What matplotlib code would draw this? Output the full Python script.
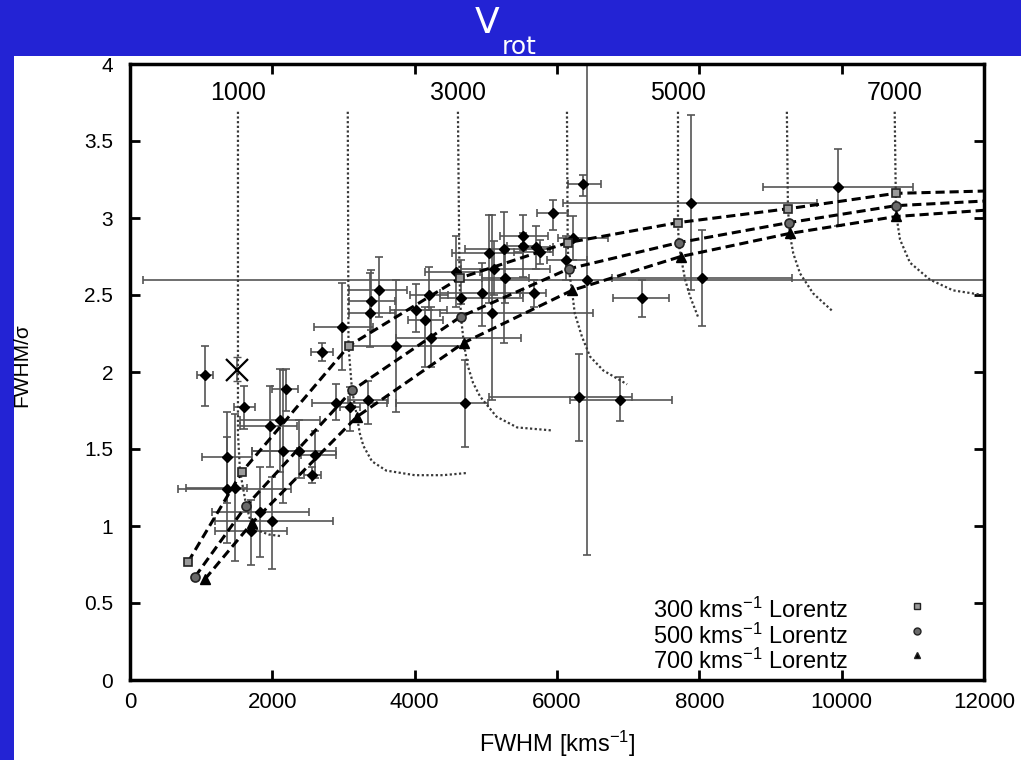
"""FWHM/sigma versus FWHM with rotating-disc model tracks (V_rot)."""

import matplotlib

matplotlib.use('Agg')
import matplotlib.pyplot as plt
from matplotlib.patches import Rectangle
import numpy as np

plt.rcParams['font.family'] = ['Liberation Sans', 'DejaVu Sans']
plt.rcParams['mathtext.default'] = 'regular'

# --- measured objects: FWHM, FWHM/sigma and the ends of their error bars ---
fwhm = np.array([1050, 1600, 1967, 2108, 2192, 1360, 1360, 1475, 1827, 1700,
                 1995, 2150, 2375, 2600, 2557, 2894, 3090, 3344, 2698, 2979,
                 3372, 3386, 3499, 3737, 4018, 4145, 4200, 4230, 4580, 4650,
                 4945, 5045, 5115, 5085, 5255, 5270, 5522, 5522, 5705, 5760,
                 5680, 5945, 6225, 6125, 6420, 6365, 4707, 6310, 6885, 7190,
                 7880, 8035, 9950])
ratio = np.array([1.98, 1.77, 1.65, 1.69, 1.89, 1.45, 1.24, 1.25, 1.09, 0.97,
                  1.03, 1.49, 1.49, 1.46, 1.33, 1.80, 1.77, 1.82, 2.13, 2.29,
                  2.38, 2.46, 2.53, 2.17, 2.40, 2.34, 2.50, 2.22, 2.65, 2.48,
                  2.51, 2.77, 2.67, 2.38, 2.80, 2.61, 2.88, 2.82, 2.81, 2.78,
                  2.51, 3.03, 2.87, 2.73, 2.60, 3.22, 1.80, 1.84, 1.82, 2.48,
                  3.10, 2.61, 3.20])
fwhm_lo = np.array([940, 1460, 1545, 1545, 1995, 1011, 680, 790, 1150, 1195,
                    1195, 1714, 1714, 2400, 2440, 2557, 2950, 3060, 2540, 2585,
                    3077, 3077, 3077, 3090, 3650, 3900, 3934, 3737, 4145, 4355,
                    4355, 4520, 4650, 4355, 4707, 4950, 5200, 5300, 5500, 5400,
                    5480, 5720, 6010, 5860, 180, 6150, 3737, 5050, 6180, 6785,
                    6085, 6770, 8895])
fwhm_hi = np.array([1160, 1760, 2346, 2670, 2360, 1714, 2262, 1650, 2515, 2205,
                    2852, 2346, 2894, 2894, 2680, 3610, 3230, 3625, 2850, 3415,
                    3723, 3723, 3892, 4700, 4450, 4400, 4470, 5500, 4920, 5520,
                    5520, 5520, 5900, 6505, 5900, 5600, 5875, 5760, 5950, 5950,
                    5845, 6155, 6715, 6420, 12500, 6620, 5030, 7050, 7615, 7575,
                    9650, 9300, 11000])
ratio_lo = np.array([1.78, 1.63, 1.38, 1.35, 1.75, 1.15, 0.89, 0.77, 0.80, 0.75,
                     0.72, 1.15, 1.31, 1.31, 1.28, 1.69, 1.62, 1.66, 2.07, 2.01,
                     2.16, 2.27, 2.36, 1.74, 2.26, 2.03, 2.40, 2.03, 2.42, 2.44,
                     2.30, 2.45, 2.50, 1.82, 2.19, 2.45, 2.79, 2.62, 2.67, 2.70,
                     2.42, 2.92, 2.73, 2.60, 0.81, 3.14, 1.51, 1.55, 1.68, 2.36,
                     2.53, 2.30, 2.95])
ratio_hi = np.array([2.17, 1.91, 1.91, 2.02, 2.02, 1.74, 1.58, 1.73, 1.38, 1.17,
                     1.32, 2.01, 1.69, 1.62, 1.38, 1.92, 1.90, 1.94, 2.19, 2.58,
                     2.64, 2.66, 2.75, 2.60, 2.57, 2.42, 2.68, 2.42, 2.88, 2.73,
                     2.71, 3.02, 2.85, 3.02, 3.04, 2.78, 3.02, 2.90, 2.95, 2.86,
                     2.60, 3.12, 3.01, 2.88, 4.40, 3.28, 2.08, 2.12, 1.97, 2.60,
                     3.67, 2.92, 3.45])

# the object marked with a cross
cross_fwhm, cross_ratio = 1500, 2.01
cross_ratio_lo, cross_ratio_hi = 1.94, 2.10

# --- Lorentzian model tracks (last point = right edge, no marker) ---
l300_x = [815, 1570, 3075, 4635, 6150, 7700, 9245, 10760, 12000]
l300_y = [0.766, 1.35, 2.17, 2.61, 2.84, 2.97, 3.06, 3.16, 3.175]
l500_x = [913, 1630, 3120, 4650, 6165, 7710, 9260, 10760, 12000]
l500_y = [0.67, 1.13, 1.88, 2.36, 2.67, 2.84, 2.97, 3.08, 3.11]
l700_x = [1053, 1715, 3190, 4690, 6210, 7740, 9270, 10770, 12000]
l700_y = [0.655, 1.02, 1.71, 2.19, 2.53, 2.75, 2.90, 3.01, 3.05]

# --- constant V_rot tracks (dotted) ---
v1000_x = [1517, 1517, 1545, 1630, 1700, 1800, 1950, 2107]
v1000_y = [3.69, 1.60, 1.36, 1.14, 1.02, 0.97, 0.945, 0.935]
v2000_x = [3060, 3070, 3120, 3190, 3230, 3280, 3400, 3600, 4000, 4400, 4750]
v2000_y = [3.69, 2.17, 1.88, 1.71, 1.60, 1.52, 1.42, 1.36, 1.33, 1.33, 1.345]
v3000_x = [4608, 4630, 4650, 4690, 4740, 4820, 4920, 5150, 5440, 5945]
v3000_y = [3.69, 2.61, 2.36, 2.19, 2.05, 1.93, 1.84, 1.71, 1.64, 1.62]
v4000_x = [6140, 6150, 6165, 6210, 6250, 6350, 6465, 6650, 6985]
v4000_y = [3.69, 2.84, 2.67, 2.53, 2.38, 2.23, 2.10, 2.01, 1.92]
v5000_x = [7700, 7700, 7710, 7740, 7800, 7870, 7980]
v5000_y = [3.69, 2.97, 2.84, 2.75, 2.60, 2.49, 2.36]
v6000_x = [9230, 9245, 9260, 9270, 9320, 9415, 9600, 9860]
v6000_y = [3.69, 3.06, 2.97, 2.90, 2.77, 2.64, 2.51, 2.40]
v7000_x = [10745, 10760, 10760, 10770, 10820, 10960, 11240, 11565, 11985]
v7000_y = [3.69, 3.16, 3.08, 3.01, 2.86, 2.71, 2.60, 2.53, 2.50]

vrot_labels = ['1000', '3000', '5000', '7000']
vrot_label_x = [1517, 4608, 7700, 10745]
vrot_label_y = 3.81

legend_labels = ['300 kms$^{-1}$ Lorentz', '500 kms$^{-1}$ Lorentz',
                 '700 kms$^{-1}$ Lorentz']

BLUE = '#2323d4'

fig = plt.figure(figsize=(10.21, 7.60), dpi=100)
fig.patch.set_facecolor(BLUE)
fig.add_artist(Rectangle((14 / 1021, 0), 1, (760 - 56) / 760,
                         transform=fig.transFigure, facecolor='white',
                         edgecolor='none', zorder=0))
fig.text(487 / 1021, 1 - 33 / 760, 'V', color='white', fontsize=26,
         ha='center', va='baseline', family='DejaVu Sans')
fig.text(502 / 1021, 1 - 54 / 760, 'rot', color='white', fontsize=18,
         ha='left', va='baseline', family='DejaVu Sans')

ax = fig.add_axes([130 / 1021, 80 / 760, 854 / 1021, 616 / 760])
ax.set_zorder(1)

# error bars and data points
xerr = [fwhm - fwhm_lo, fwhm_hi - fwhm]
yerr = [ratio - ratio_lo, ratio_hi - ratio]
ax.errorbar(fwhm, ratio, xerr=xerr, yerr=yerr, fmt='none', ecolor='#555555',
            elinewidth=1.2, capsize=3.2, capthick=1.2, zorder=2)
ax.plot(fwhm, ratio, 'D', color='black', markersize=5.5, zorder=5)
ax.errorbar([cross_fwhm], [cross_ratio],
            yerr=[[cross_ratio - cross_ratio_lo], [cross_ratio_hi - cross_ratio]],
            fmt='none', ecolor='#555555', elinewidth=1.2, capsize=3.2, zorder=2)
ax.plot([cross_fwhm], [cross_ratio], 'x', color='black', markersize=16,
        markeredgewidth=1.6, zorder=5)

# constant V_rot tracks
for xs, ys in [(v1000_x, v1000_y), (v2000_x, v2000_y), (v3000_x, v3000_y),
               (v4000_x, v4000_y), (v5000_x, v5000_y), (v6000_x, v6000_y),
               (v7000_x, v7000_y)]:
    ax.plot(xs, ys, color='#383838', lw=1.6, linestyle=(0, (1, 1.1)), zorder=3)
for lab, lx in zip(vrot_labels, vrot_label_x):
    ax.text(lx, vrot_label_y, lab, ha='center', va='center', fontsize=18)

# Lorentzian model tracks
ax.plot(l300_x, l300_y, color='black', lw=2.2, linestyle=(0, (3, 1.6)), zorder=4)
ax.plot(l500_x, l500_y, color='black', lw=2.2, linestyle=(0, (3, 1.6)), zorder=4)
ax.plot(l700_x, l700_y, color='black', lw=2.2, linestyle=(0, (3, 1.6)), zorder=4)
ax.plot(l300_x[:-1], l300_y[:-1], 's', markersize=6, markerfacecolor='#9a9a9a',
        markeredgecolor='#222222', markeredgewidth=1.2, zorder=6)
ax.plot(l500_x[:-1], l500_y[:-1], 'o', markersize=6.5, markerfacecolor='#6a6a6a',
        markeredgecolor='#222222', markeredgewidth=1.2, zorder=6)
ax.plot(l700_x[:-1], l700_y[:-1], '^', markersize=6.5, color='black', zorder=6)

# key
key_markers = [('s', '#9a9a9a'), ('o', '#6a6a6a'), ('^', 'black')]
key_text_y = [0.113, 0.071, 0.030]
key_marker_y = [0.120, 0.080, 0.040]
for lab, ty, my, (mk, fc) in zip(legend_labels, key_text_y, key_marker_y, key_markers):
    ax.text(0.612, ty, lab, transform=ax.transAxes, ha='left', va='center',
            fontsize=17)
    ax.plot([0.9215], [my], mk, transform=ax.transAxes, markersize=5,
            markerfacecolor=fc, markeredgecolor='#222222', markeredgewidth=1)

ax.set_xlim(0, 12000)
ax.set_ylim(0, 4)
ax.set_xticks(np.arange(0, 12001, 2000))
ax.set_yticks(np.arange(0, 4.01, 0.5))
ax.set_yticklabels(['0', '0.5', '1', '1.5', '2', '2.5', '3', '3.5', '4'])
ax.tick_params(direction='in', length=7, width=2, top=True, right=True)
ax.tick_params(axis='x', labelsize=16, pad=9)
ax.tick_params(axis='y', labelsize=15, pad=12)
for sp in ax.spines.values():
    sp.set_linewidth(2.5)

ax.set_xlabel('FWHM [kms$^{-1}$]', fontsize=17, labelpad=11)
fig.text(22 / 1021, 1 - 365 / 760, 'FWHM/σ', rotation=90, ha='center',
         va='center', fontsize=15)

fig.savefig('out.png', dpi=100, facecolor=fig.get_facecolor())
